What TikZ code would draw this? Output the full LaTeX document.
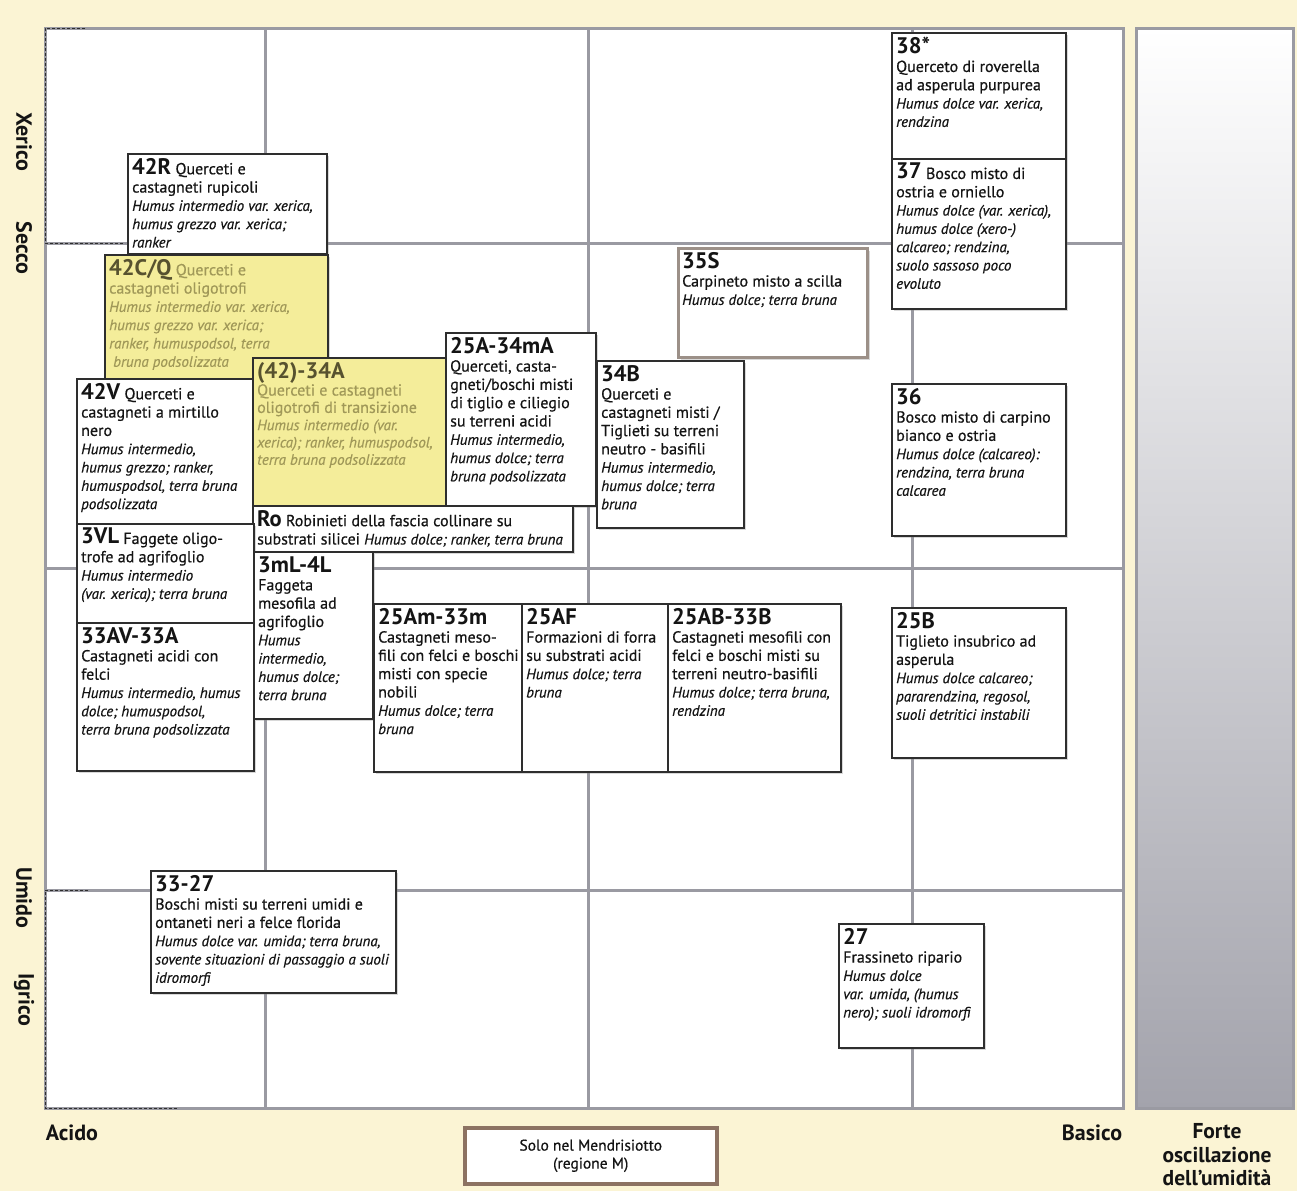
\documentclass[tikz,border=0pt]{standalone}
\usepackage{fontspec}
\setmainfont{PT Sans}[UprightFeatures={FakeBold=0.6}, ItalicFeatures={FakeBold=0.5}]
\usetikzlibrary{shadows}
\definecolor{bgy}{HTML}{FBF4D4}
\definecolor{gridc}{HTML}{9A9AA2}
\definecolor{boxc}{HTML}{2E2E2E}
\definecolor{yelf}{HTML}{F4ED9A}
\definecolor{fadet}{HTML}{A09858}
\definecolor{fadeh}{HTML}{57522F}
\definecolor{brownb}{HTML}{8C7262}
\definecolor{taupe}{HTML}{9C9088}
\definecolor{txtc}{HTML}{141414}
\definecolor{panelb}{HTML}{A3A3AC}
\definecolor{panelm}{HTML}{DCDCE2}

\newcommand\codeT[1]{{\fontsize{22.5}{18.3}\selectfont\bfseries #1}}
\newcommand\humT[1]{{\fontsize{15}{18.3}\selectfont\itshape #1}}

\tikzset{
  bx/.style={draw=boxc, line width=1.8pt, fill=white, anchor=north west, inner sep=0pt,
    drop shadow={shadow xshift=2pt, shadow yshift=-2pt, opacity=0.3}},
  yb/.style={bx, fill=yelf},
  mb/.style={bx, draw=taupe, line width=3pt},
  tx/.style={anchor=north west, inner sep=0pt, align=left, text=txtc,
    font=\fontsize{16}{18.3}\selectfont},
  ftx/.style={tx, text=fadet},
  axl/.style={font=\fontsize{22}{24.5}\selectfont\bfseries, text=txtc, inner sep=0pt},
  gridl/.style={draw=gridc, line width=3pt},
  dashl/.style={draw=boxc, line width=1pt, dash pattern=on 3pt off 2pt},
}

% #1 name, #2 box style, #3 text style, #4 x, #5 y, #6 w, #7 h, #8 text
\newcommand\ecobox[8]{%
  \node[#2, minimum width=#6pt, minimum height=#7pt] (#1) at (#4,#5) {};
  \node[#3] (#1-t) at ([xshift=5pt,yshift=-5pt]#1.north west) {#8};
}

\begin{document}
\begin{tikzpicture}[x=1pt,y=-1pt]
\useasboundingbox (0,0) rectangle (1297,1191);
\fill[bgy] (0,0) rectangle (1297,1191);

% main field and grid
\fill[white] (45,28) rectangle (1123,1108);
\draw[gridl] (265,28) -- (265,1108);
\draw[gridl] (588,28) -- (588,1108);
\draw[gridl] (912,28) -- (912,1108);
\draw[gridl] (45,243) -- (1123,243);
\draw[gridl] (45,568) -- (1123,568);
\draw[gridl] (45,890) -- (1123,890);
\draw[gridl] (45,28) rectangle (1123,1108);
\draw[dashl] (85,28) -- (45,28) -- (45,243) -- (125,243);
\draw[dashl] (88,890) -- (45,890) -- (45,1108) -- (178,1108);

% right panel
\shade[top color=white, middle color=panelm, bottom color=panelb] (1136,28) rectangle (1293,1108);
\draw[gridl] (1136,28) rectangle (1293,1108);

% axis labels
\node[axl, rotate=-90] (xer) at (24,142) {Xerico};
\node[axl, rotate=-90] (sec) at (24,248) {Secco};
\node[axl, rotate=-90] (umi) at (24,898) {Umido};
\node[axl, rotate=-90] (igr) at (24,1000) {Igrico};
\node[axl] (aci) at (72,1133) {Acido};
\node[axl] (bas) at (1092,1133) {Basico};
\node[axl, align=center, anchor=south, font=\fontsize{21.5}{23.5}\selectfont\bfseries] (forte) at (1217,1186) {Forte\\oscillazione\\dell’umidità};

% boxes
\ecobox{b42R}{bx}{tx}{127}{153}{199}{100}{\codeT{42R} Querceti e\\castagneti rupicoli\\\humT{Humus intermedio var. xerica,}\\\humT{humus grezzo var. xerica;}\\\humT{ranker}}
\ecobox{b42CQ}{yb}{ftx}{104}{254}{223}{124}{\textcolor{fadeh}{\codeT{42C/Q}} Querceti e\\castagneti oligotrofi\\\humT{Humus intermedio var. xerica,}\\\humT{humus grezzo var. xerica;}\\\humT{ranker, humuspodsol, terra}\\\humT{\ bruna podsolizzata}}
\ecobox{b42V}{bx}{tx}{76}{378}{177}{145}{\codeT{42V} Querceti e\\castagneti a mirtillo\\nero\\\humT{Humus intermedio,}\\\humT{humus grezzo; ranker,}\\\humT{humuspodsol, terra bruna}\\\humT{podsolizzata}}
\ecobox{b4234A}{yb}{ftx,font=\fontsize{16}{17.3}\selectfont}{252}{357}{194}{148}{\textcolor{fadeh}{\codeT{(42)-34A}}\\Querceti e castagneti\\oligotrofi di transizione\\\humT{Humus intermedio (var.}\\\humT{xerica); ranker, humuspodsol,}\\\humT{terra bruna podsolizzata}}
\ecobox{b25A}{bx}{tx}{445}{332}{150}{173}{\codeT{25A-34mA}\\Querceti, casta-\\gneti/boschi misti\\di tiglio e ciliegio\\su terreni acidi\\\humT{Humus intermedio,}\\\humT{humus dolce; terra}\\\humT{bruna podsolizzata}}
\ecobox{b34B}{bx}{tx}{596}{360}{147}{167}{\codeT{34B}\\Querceti e\\castagneti misti /\\Tiglieti su terreni\\neutro - basifili\\\humT{Humus intermedio,}\\\humT{humus dolce; terra}\\\humT{bruna}}
\ecobox{bRo}{bx}{tx}{252}{505}{320}{46}{\codeT{Ro} Robinieti della fascia collinare su\\substrati silicei \humT{Humus dolce; ranker, terra bruna}}
\ecobox{b3VL}{bx}{tx}{76}{523}{177}{99}{\codeT{3VL} Faggete oligo-\\trofe ad agrifoglio\\\humT{Humus intermedio}\\\humT{(var. xerica); terra bruna}}
\ecobox{b33AV}{bx}{tx}{76}{622}{177}{148}{\codeT{33AV-33A}\\Castagneti acidi con\\felci\\\humT{Humus intermedio, humus}\\\humT{dolce; humuspodsol,}\\\humT{terra bruna podsolizzata}}
\ecobox{b3mL}{bx}{tx}{253}{551}{119}{167}{\codeT{3mL-4L}\\Faggeta\\mesofila ad\\agrifoglio\\\humT{Humus}\\\humT{intermedio,}\\\humT{humus dolce;}\\\humT{terra bruna}}
\ecobox{b25Am}{bx}{tx}{373}{603}{148}{168}{\codeT{25Am-33m}\\Castagneti meso-\\fili con felci e boschi\\misti con specie\\nobili\\\humT{Humus dolce; terra}\\\humT{bruna}}
\ecobox{b25AF}{bx}{tx}{521}{603}{146}{168}{\codeT{25AF}\\Formazioni di forra\\su substrati acidi\\\humT{Humus dolce; terra}\\\humT{bruna}}
\ecobox{b25AB}{bx}{tx}{667}{603}{173}{168}{\codeT{25AB-33B}\\Castagneti mesofili con\\felci e boschi misti su\\terreni neutro-basifili\\\humT{Humus dolce; terra bruna,}\\\humT{rendzina}}
\ecobox{b35S}{mb}{tx}{677}{247}{189}{109}{\codeT{35S}\\Carpineto misto a scilla\\\humT{Humus dolce; terra bruna}}
\ecobox{b38}{bx}{tx}{891}{32}{174}{126}{\codeT{38*}\\Querceto di roverella\\ad asperula purpurea\\\humT{Humus dolce var. xerica,}\\\humT{rendzina}}
\ecobox{b37}{bx}{tx}{891}{158}{174}{150}{\codeT{37} Bosco misto di\\ostria e orniello\\\humT{Humus dolce (var. xerica),}\\\humT{humus dolce (xero-)}\\\humT{calcareo; rendzina,}\\\humT{suolo sassoso poco}\\\humT{evoluto}}
\ecobox{b36}{bx}{tx}{891}{383}{174}{152}{\codeT{36}\\Bosco misto di carpino\\bianco e ostria\\\humT{Humus dolce (calcareo):}\\\humT{rendzina, terra bruna}\\\humT{calcarea}}
\ecobox{b25B}{bx}{tx}{891}{607}{174}{150}{\codeT{25B}\\Tiglieto insubrico ad\\asperula\\\humT{Humus dolce calcareo;}\\\humT{pararendzina, regosol,}\\\humT{suoli detritici instabili}}
\ecobox{b3327}{bx}{tx}{150}{870}{245}{122}{\codeT{33-27}\\Boschi misti su terreni umidi e\\ontaneti neri a felce florida\\\humT{Humus dolce var. umida; terra bruna,}\\\humT{sovente situazioni di passaggio a suoli}\\\humT{idromorfi}}
\ecobox{b27}{bx}{tx}{838}{923}{145}{124}{\codeT{27}\\Frassineto ripario\\\humT{Humus dolce}\\\humT{var. umida, (humus}\\\humT{nero); suoli idromorfi}}

% legend
\node[draw=brownb, line width=3.5pt, fill=white, anchor=north west, minimum width=252pt,
  minimum height=56pt, align=center, text=txtc, font=\fontsize{15.5}{18}\selectfont,
  drop shadow={shadow xshift=2pt, shadow yshift=-2pt, opacity=0.3}]
  (leg) at (463,1126) {Solo nel Mendrisiotto\\(regione M)};
\end{tikzpicture}
\end{document}
